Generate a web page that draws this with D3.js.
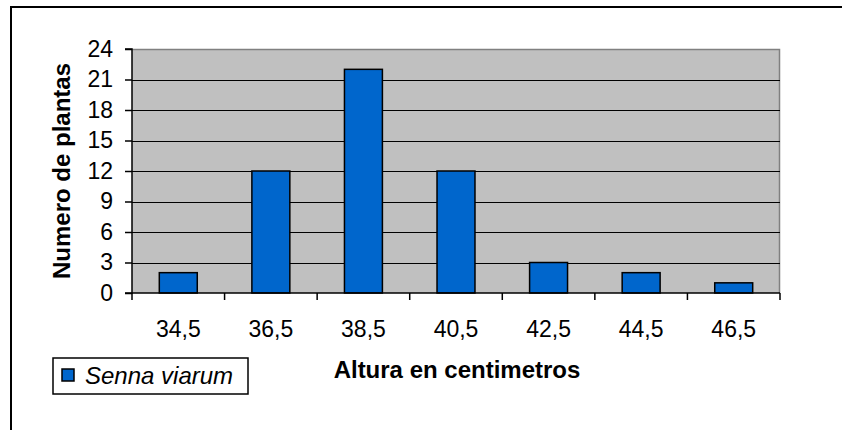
<!DOCTYPE html>
<html>
<head>
<meta charset="utf-8">
<script src="https://cdn.jsdelivr.net/npm/d3@7"></script>
<style>
html,body{margin:0;padding:0;background:#fff;}
svg{display:block;}
text{font-family:"Liberation Sans",Arial,sans-serif;fill:#000;}
</style>
</head>
<body>
<svg id="chart" width="842" height="430"></svg>
<script>
const categories = ["34,5","36,5","38,5","40,5","42,5","44,5","46,5"];
const values = [2,12,22,12,3,2,1];
const yTicks = [0,3,6,9,12,15,18,21,24];
const seriesName = "Senna viarum";
const xTitle = "Altura en centimetros";
const yTitle = "Numero de plantas";

const svg = d3.select("#chart");
const m = {left:132, top:49, right:780, bottom:293};
const W = m.right - m.left, H = m.bottom - m.top;
const FONT = "Liberation Sans, Arial, sans-serif";

// outer frame
svg.append("rect").attr("x",11).attr("y",7).attr("width",860).attr("height",460)
  .attr("fill","none").attr("stroke","#000").attr("stroke-width",2);

const x = d3.scaleBand().domain(categories).range([m.left,m.right]).paddingInner(0).paddingOuter(0);
const y = d3.scaleLinear().domain([0,24]).range([m.bottom,m.top]);

// plot area
svg.append("rect").attr("x",m.left).attr("y",m.top).attr("width",W).attr("height",H)
  .attr("fill","#C0C0C0");
svg.append("path").attr("d",`M${m.left},${m.top+0.5}H${m.right-0.5}V${m.bottom}`)
  .attr("fill","none").attr("stroke","#808080").attr("stroke-width",1.5);

// gridlines
svg.append("g").selectAll("line").data(yTicks.filter(t=>t>0 && t<24)).join("line")
  .attr("x1",m.left).attr("x2",m.right)
  .attr("y1",d=>Math.round(y(d))+0.5).attr("y2",d=>Math.round(y(d))+0.5)
  .attr("stroke","#000").attr("stroke-width",1);

// bars
const bw = x.bandwidth()*0.41;
svg.append("g").selectAll("rect").data(values).join("rect")
  .attr("x",(d,i)=>x(categories[i])+x.bandwidth()/2-bw/2)
  .attr("y",d=>y(d))
  .attr("width",bw)
  .attr("height",d=>y(0)-y(d))
  .attr("fill","#0066CC").attr("stroke","#000").attr("stroke-width",1.5);

// y axis
const yAxis = d3.axisLeft(y).tickValues(yTicks).tickSize(7).tickPadding(12);
const gy = svg.append("g").attr("transform",`translate(${m.left},0)`).call(yAxis);
gy.select(".domain").attr("stroke","#000").attr("stroke-width",1.5).attr("d",`M-7,${m.top}H0V${m.bottom}H-7`);
gy.selectAll(".tick line").attr("stroke","#000").attr("stroke-width",1.5);
gy.selectAll(".tick text").attr("font-size",23).attr("font-family",FONT).attr("fill","#000");

// x axis
const xAxis = d3.axisBottom(x).tickSize(0).tickPadding(28);
const gx = svg.append("g").attr("transform",`translate(0,${m.bottom})`).call(xAxis);
gx.select(".domain").attr("stroke","#000").attr("stroke-width",1.5).attr("d",`M${m.left},0H${m.right}`);
gx.selectAll(".tick text").attr("font-size",23).attr("font-family",FONT).attr("fill","#000");
// boundary tick marks
const bounds = categories.map(c=>x(c)).concat([m.right]);
gx.append("g").selectAll("line").data(bounds).join("line")
  .attr("x1",d=>d).attr("x2",d=>d).attr("y1",0).attr("y2",7)
  .attr("stroke","#000").attr("stroke-width",1.5);

// titles
svg.append("text").attr("x",457).attr("y",378).attr("text-anchor","middle")
  .attr("font-size",24).attr("font-weight","bold").text(xTitle);
svg.append("text").attr("transform",`translate(70,${(m.top+m.bottom)/2}) rotate(-90)`)
  .attr("text-anchor","middle").attr("font-size",24).attr("font-weight","bold").text(yTitle);

// legend
svg.append("rect").attr("x",53).attr("y",358).attr("width",195).attr("height",36)
  .attr("fill","#fff").attr("stroke","#000").attr("stroke-width",1.5);
svg.append("rect").attr("x",62).attr("y",369).attr("width",12).attr("height",12)
  .attr("fill","#0066CC").attr("stroke","#000").attr("stroke-width",1.5);
svg.append("text").attr("x",85).attr("y",384).attr("font-size",24).attr("font-style","italic").text(seriesName);
</script>
</body>
</html>
